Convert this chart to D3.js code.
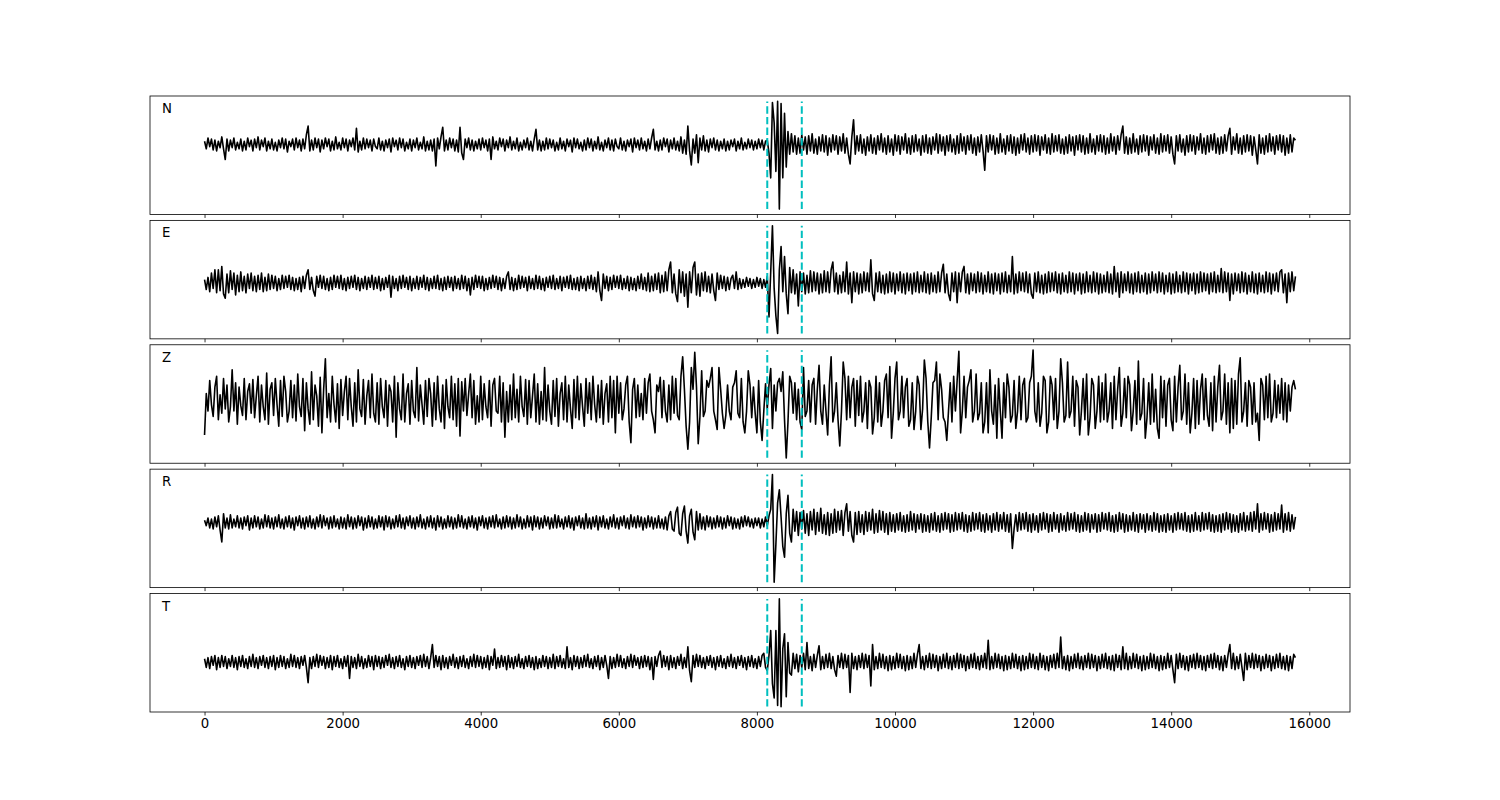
<!DOCTYPE html>
<html><head><meta charset="utf-8">
<script src="https://cdn.jsdelivr.net/npm/d3@7"></script>
<style>body{margin:0;background:#fff}</style></head>
<body><svg id="c" width="1500" height="800"></svg>
<script>
const channels = ["N","E","Z","R","T"];
const sampleStep = 25;
const picks = [8150, 8650];
const xTicks = [0,2000,4000,6000,8000,10000,12000,14000,16000];

const traceN = [
3,-4,6,-2,5,-5,4,-6,3,-3,7,-4,-14,5,-6,4,-3,6,-5,2,
-4,5,-6,3,-5,6,-2,4,-6,5,-3,7,-5,4,-2,6,-6,3,-4,5,
-5,2,-6,4,-3,6,-4,5,-7,3,-2,5,-5,6,-3,4,-6,5,-4,9,
17,-6,4,-5,6,-3,5,-7,4,-4,6,-2,5,-6,3,-5,7,-4,2,-5,
6,-3,5,-6,4,-2,6,-5,15,-7,3,-5,6,-4,5,-3,4,-6,5,-2,
-4,6,-5,3,-6,4,-3,5,-7,6,-2,4,-5,6,-3,5,-6,2,-4,5,
-6,4,-3,6,-5,2,-4,7,-6,3,-5,4,-6,5,-20,6,-4,7,16,-6,
4,-5,6,-3,5,-6,4,-7,16,-8,-14,5,-3,6,-5,4,-6,3,-4,5,
-5,6,-3,4,-6,5,-14,7,-4,3,-5,6,-2,5,-6,4,-3,7,-5,3,
-4,6,-6,2,-5,4,-3,6,-5,3,-6,5,14,-5,4,-6,3,-5,6,-4,
5,-3,4,-6,2,-5,6,-4,3,-6,5,-2,4,-7,6,-3,5,-4,2,-6,
4,-5,6,-3,5,-6,3,-4,7,-5,2,-6,4,-3,6,-5,4,-6,5,-2,
-4,6,-5,3,-6,4,-2,5,-7,6,-3,4,-5,6,-4,3,-6,5,-4,6,
14,-5,3,-6,4,-5,6,-2,5,-7,4,-4,6,-5,3,-6,7,-8,4,-9,
17,-6,-19,5,-8,9,-17,6,-5,8,-6,4,-7,5,-3,6,-5,4,-6,3,
-4,5,-6,3,-5,4,-2,5,-6,3,-4,6,-5,2,-4,5,-3,4,-5,3,
-4,5,-3,4,-5,3,4,-8,-31,39,20,-25,40,-60,38,-31,29,-21,12,-9,
10,-7,8,-9,6,-8,9,-5,7,-9,8,-6,10,-8,5,-9,7,-6,9,-7,
8,-10,6,-7,9,-5,8,-9,7,-6,10,-8,6,-9,-18,7,23,-9,8,-6,
9,-8,5,-10,7,-6,9,-8,6,-9,8,-5,10,-7,6,-9,8,-7,5,-10,
9,-6,8,-9,7,-5,10,-8,6,-9,8,-7,9,-6,5,-10,8,-7,9,-8,
6,-9,7,-5,10,-8,9,-6,7,-10,8,-6,9,-7,5,-9,8,-8,10,-6,
7,-9,8,-5,9,-8,6,-10,7,-7,9,-6,-24,8,-7,9,-5,8,-9,6,
-8,10,-7,5,-9,8,-6,9,-8,7,-10,6,-8,9,-5,10,-7,6,-9,8,
-7,9,-6,8,-10,7,-5,9,-8,6,-9,10,-7,8,-6,9,-8,5,-9,7,
-8,9,-6,7,-10,8,-5,9,-7,8,-9,6,-8,10,-7,5,-9,8,-6,9,
-7,8,-9,6,-8,10,-6,7,-9,8,-5,9,17,-8,7,-9,6,-8,10,-7,
5,-9,8,-7,9,-6,8,-10,7,-5,9,-8,6,-9,10,-7,8,-6,9,-8,
7,-9,-18,8,-6,9,-7,5,-10,8,-7,9,-6,8,-9,7,-5,10,-8,6,
-9,8,-7,9,-5,10,-8,6,-9,7,-8,9,-6,8,15,-9,7,-5,10,-8,
6,-9,8,-7,9,-6,8,-10,7,-5,-18,9,-8,6,-9,8,-7,10,-6,7,
-9,8,-5,9,-7,8,-10,6,-8,9,-7,6,4];

const traceE = [
3,-6,5,-8,9,-5,12,-9,12,-7,15,-10,-14,8,-9,11,-6,9,-11,7,
-8,10,-7,6,-9,8,-5,9,-7,6,-8,7,-6,9,-8,5,-7,8,-6,7,
-5,6,-7,4,-6,7,-5,6,-4,7,-6,5,-7,4,-6,5,-8,6,-5,7,
12,-6,5,-7,-12,6,-4,7,-5,6,-6,4,-7,5,-6,7,-4,6,-5,7,
-6,4,-7,5,-5,6,-4,7,-6,5,-7,4,-5,6,-6,5,-4,7,-6,5,
-5,6,-7,4,-6,5,-4,7,-13,6,-5,4,-7,6,-5,7,-4,5,-6,6,
-7,4,-5,6,-6,5,-4,7,-6,5,-7,4,-5,6,-5,7,-6,4,-7,5,
-6,6,-4,5,-7,6,-5,4,-6,7,-5,6,-7,4,-11,5,-6,7,-4,6,
-5,6,-7,4,-6,5,-5,7,-4,6,-6,5,-7,4,-5,6,10,-6,5,-7,
4,-6,7,-5,6,-4,5,-7,6,-5,4,-6,7,-5,6,-6,4,-7,5,-4,
6,-5,7,-6,4,-5,6,-7,5,-4,6,-5,7,-6,4,-6,5,-7,6,-5,
4,-7,6,-5,7,-6,5,-8,10,-7,-16,8,-5,6,-7,5,-6,7,-4,6,
-5,7,-6,4,-5,6,-7,5,-6,4,-7,6,-5,8,-6,5,-7,9,-8,6,
-7,8,-6,9,-9,7,-8,10,-7,12,19,-9,8,-10,-17,12,-9,10,-12,8,
-22,10,-9,14,19,-11,8,-12,9,-7,10,-8,6,-9,8,-7,-16,9,-6,7,
-5,6,-7,5,-6,4,7,-5,10,-6,4,-5,3,-4,5,-3,4,-5,3,-4,
5,-3,4,-5,3,-4,6,-31,10,52,-5,-30,-46,12,33,-8,24,-10,-28,14,
-9,12,-10,8,-21,10,-8,9,-10,7,-9,11,-8,10,-7,9,-10,8,-9,11,
-8,10,-9,12,19,-8,9,-10,7,-9,10,-8,19,-10,9,-18,10,-8,9,-10,
8,-9,10,-7,9,-8,21,-10,-16,9,-8,10,-9,7,-10,8,-9,10,-8,9,
-10,8,-7,10,-9,8,-10,9,-7,8,-10,9,-8,10,-9,7,-8,10,-9,8,
-10,9,-8,7,-9,10,-8,9,17,-9,8,-10,-16,9,-8,10,-18,9,-8,10,
15,-9,8,-10,9,-7,8,-9,10,-8,9,-10,7,-8,10,-9,8,-10,9,-7,
8,-10,9,-8,10,-9,7,-8,24,-10,8,-9,10,-7,9,-8,10,-9,8,-10,
-14,9,-8,10,-9,7,-10,8,-9,10,-8,9,-7,10,-9,8,-10,9,-8,7,
-9,10,-8,9,-10,8,-7,9,-10,8,-9,10,-8,7,-9,10,-8,9,-10,8,
-9,7,-8,10,-9,8,-10,15,-8,9,-13,10,-9,8,-7,10,-9,8,-10,9,
-8,10,-9,7,-8,9,-10,8,-9,10,-7,8,-9,10,-8,9,-10,7,-8,9,
-10,8,-9,10,-8,7,-9,10,-8,9,-10,8,-7,9,-10,8,-9,10,-8,9,
-7,8,-10,9,-8,10,-9,7,-8,13,-9,10,-8,9,-16,8,-10,9,-7,8,
-9,10,-8,9,-10,7,-8,10,-9,8,-10,9,-8,7,-9,10,-8,9,-10,8,
-7,9,-8,10,12,-9,8,-18,9,-8,10,-7,6];

const traceZ = [
-32,6,-10,18,-4,-15,12,22,-18,5,-12,20,-8,14,-20,-6,28,-10,16,-22,
12,-5,-14,20,-18,8,15,-12,19,-16,4,22,-20,14,-6,-18,25,-22,10,16,
-14,20,-4,-24,18,-15,22,8,-20,-10,18,-16,14,-19,24,-6,-15,20,-28,16,
-8,-22,26,-18,14,4,-24,21,-30,10,38,-16,6,-20,22,-4,-20,15,-26,19,
-14,8,22,-18,20,-6,-24,16,-20,28,-8,-15,19,-22,4,18,-16,24,-12,-20,
16,-22,20,-6,-16,18,-24,14,8,-20,22,-34,16,-8,-18,24,-20,6,15,-22,
18,-10,-16,30,-19,14,-4,-22,18,-15,20,6,-24,16,-18,22,-8,-20,14,-26,
19,-6,-16,22,-18,15,-24,20,-33,17,-10,20,-14,6,24,-16,18,-22,4,-20,
22,-18,15,-6,-16,18,-24,14,20,-10,-12,22,-20,16,-34,8,-20,14,-18,24,
-16,10,-20,22,-6,-15,19,-22,18,-16,4,24,-20,15,-22,8,-18,30,-19,14,
-10,-22,18,-15,20,-24,6,16,-18,22,-20,14,-8,-26,19,-16,22,-18,15,-6,
-24,20,-12,16,-18,22,-4,-20,14,-16,18,-22,6,15,-20,22,-16,18,-30,22,
-12,16,-18,-8,14,22,-20,-39,10,20,-16,14,-15,6,-18,20,-12,16,24,-10,
-18,-30,14,8,21,-16,18,-10,-20,14,-18,22,-12,20,-14,-18,22,40,10,-24,
-45,-20,30,10,44,12,-40,-15,27,-15,-10,18,12,20,30,-10,-18,-27,30,10,
-12,-26,-14,14,-10,-18,12,16,27,-12,-16,20,-20,-30,-10,27,14,-16,12,-12,
-30,18,-20,-37,-10,15,-8,14,29,-26,14,-10,16,20,8,26,-18,-53,-20,22,
16,-12,16,-18,10,-20,-27,30,-15,-10,18,-20,14,20,-22,10,32,-10,-22,14,
-10,-32,14,40,-20,-10,16,-18,-42,-10,35,20,-18,22,-16,12,20,-24,18,-14,
22,-20,-10,16,-26,18,12,-31,-16,22,-20,16,-24,-10,18,24,-16,31,-35,-12,
20,35,-18,-10,22,-16,12,20,-24,-18,16,-27,-10,22,14,-27,-8,37,20,-20,
-44,-16,16,18,35,-18,24,10,-16,-20,-37,-10,16,-20,22,-10,18,45,-30,-10,
22,-16,12,18,28,-20,-10,24,-18,-12,16,-30,-20,16,-30,28,-10,-22,14,-35,
20,-10,-35,16,-16,24,12,-20,-14,18,-26,-10,22,-18,14,20,-20,-16,16,22,
46,-10,-20,16,-24,-12,22,18,-30,-20,22,14,-18,20,-26,-10,38,16,-20,-14,
35,-16,-10,22,-24,18,12,-32,-10,20,-18,24,-32,-16,20,14,-26,-10,22,-20,
16,-18,24,-20,-10,16,-26,22,-18,10,30,-24,-12,20,-16,22,14,-28,-10,18,
-22,36,-18,-12,20,-35,-16,16,-22,24,-20,10,-26,-35,22,-16,18,-24,14,20,
-18,-28,22,-20,12,32,-18,-10,24,-22,16,-30,-12,20,-26,18,-22,10,24,-18,
20,-14,-24,16,-28,22,-20,12,32,-18,-10,24,-22,16,-30,20,-26,18,-22,24,
39,-20,-10,16,-24,18,12,-22,16,-20,-12,-37,20,14,-18,22,-16,24,-20,-12,
18,-16,14,-12,20,-18,16,-20,14,-10,12,18,10];

const traceR = [
2,-3,4,-5,3,-6,5,-4,6,-7,-18,8,-5,4,-6,7,-5,3,-4,6,
-5,4,-6,5,-3,6,-7,4,-5,6,-4,5,-6,3,-5,7,-4,6,-5,4,
-6,5,-4,7,-5,3,-6,5,-4,6,-5,4,-7,5,-3,6,-5,4,-6,5,
-4,6,-5,3,-6,5,-4,7,-5,6,-3,4,-6,5,-5,6,-4,3,-6,5,
-5,4,-6,7,-4,5,-6,4,-5,6,-3,5,-7,4,-5,6,-4,5,-6,3,
-5,6,-4,5,-7,6,-4,5,-6,3,-5,6,-4,7,-5,4,-6,5,-3,6,
-5,4,-6,5,-4,7,-5,3,-6,5,-4,6,-5,4,-7,6,-4,5,-6,3,
-5,6,-4,5,-6,4,-5,7,-4,6,-5,3,-6,5,-4,6,-5,4,-7,5,
-3,6,-5,4,-6,5,-4,6,-5,7,-4,3,-6,5,-5,6,-4,5,-6,4,
-5,7,-4,5,-6,3,-5,6,-4,5,-7,6,-4,5,-6,4,-5,6,-3,5,
-6,4,-5,7,-5,6,-4,3,-6,5,-4,6,-5,4,-7,5,-3,6,-5,4,
-6,8,-5,4,-6,5,-4,6,-7,5,-4,6,-5,3,-6,5,-4,7,-5,4,
-6,5,-3,6,-5,4,-6,7,-4,5,-5,6,-4,5,-7,4,-5,6,-4,5,
-6,4,-5,6,-5,3,-6,5,-7,6,10,-6,-8,9,14,-10,-12,8,15,-8,
-19,6,12,-9,-16,10,-7,8,-6,5,-7,6,-4,5,-6,4,-5,6,-4,5,
-6,4,-5,6,-3,5,-6,4,-5,3,-6,5,-4,6,-3,5,-4,3,-5,4,
-3,4,-5,3,-4,5,-3,6,12,44,-55,-20,18,30,5,-22,-32,8,25,-10,
-18,12,-8,10,-12,9,-6,11,-10,8,-12,10,-7,12,-11,9,-8,13,-10,7,
-11,9,-12,8,-10,12,-9,10,-7,11,-12,9,17,-8,10,-12,-18,9,-11,10,
-9,7,-11,10,-8,9,-7,12,-10,8,-9,11,-7,10,-9,8,-11,9,-8,7,
-9,8,-7,9,-8,6,-9,7,-8,10,-7,8,-9,7,-6,8,-9,7,-8,6,
-9,8,-7,9,-8,6,-9,8,-7,9,-6,8,-9,7,-8,9,-7,8,-6,9,
-8,7,-9,6,-8,9,-7,8,-6,9,-8,7,-9,8,-7,6,-9,8,-7,9,
-8,7,-6,9,-8,7,-9,8,-24,-6,7,-8,9,-7,8,-6,9,-8,7,-9,
8,-7,6,-9,8,-7,9,-6,8,-9,7,-8,9,-6,7,-9,8,-7,6,-8,
9,-7,8,-6,9,-8,7,-9,6,-8,9,-7,8,-9,7,-6,8,-9,7,-8,
9,-6,8,-7,9,-8,6,-9,7,-8,9,-6,8,-9,7,-8,6,-7,9,-8,
7,-9,8,-6,7,-9,8,-7,6,-8,9,-7,8,-9,6,-8,7,-9,8,-7,
6,-9,8,-7,9,-6,8,-7,9,-8,6,-9,7,-8,9,-7,6,-8,9,-7,
8,-6,9,-8,7,-9,6,-8,7,-9,8,-7,9,-6,8,-9,7,-8,6,-9,
8,-7,9,-8,6,-7,9,-8,10,-6,17,-9,8,-7,9,-6,8,-9,7,-8,
9,-7,8,-6,16,-9,8,-7,9,-8,7,-6,5];

const traceT = [
3,-5,4,-6,5,-3,6,-7,4,-5,6,-4,5,-6,3,-4,6,-5,4,-7,
5,-4,6,-5,3,-6,5,-4,7,-5,4,-6,5,-3,6,-5,4,-6,5,-4,
6,-7,4,-5,6,-4,5,-6,3,-5,7,-4,6,-5,4,-6,5,-3,6,-5,
-19,4,-6,5,-4,7,-5,6,-3,5,-6,4,-5,6,-7,5,-4,6,-5,3,
-6,5,-4,6,-15,5,-5,4,-6,7,-4,5,-6,3,-5,6,-4,5,-7,6,
-4,5,-6,4,-5,6,-3,7,-5,4,-6,5,-4,6,-5,3,-7,5,-4,6,
-5,4,-6,5,-3,6,-5,7,-4,5,-6,4,16,-5,6,-4,5,-7,6,-5,
4,-6,5,-3,7,-5,4,-6,5,-4,6,-5,3,-6,5,-4,7,-5,6,-4,
5,-6,4,-5,6,-7,5,-3,12,-6,4,-5,6,-4,5,-7,6,-5,4,-6,
5,-4,7,-5,3,-6,5,-4,6,-5,4,-7,5,-6,3,-5,6,-4,5,-6,
4,-5,7,-6,5,-4,6,-5,3,-6,14,-5,4,-7,6,-4,5,-6,4,-5,
6,-4,7,-5,3,-6,5,-4,6,-7,4,-5,6,-3,-15,5,-6,4,-5,7,
-4,6,-5,3,-6,5,-4,7,-5,6,-3,4,-6,5,-5,6,-4,5,-7,4,
-16,5,-4,6,10,-5,6,-4,5,-7,6,-5,4,-6,5,-3,7,-6,4,-5,
14,-8,-18,6,-5,7,-4,6,-5,4,-6,5,-3,6,-5,4,-7,5,-4,6,
-5,3,-6,5,-4,7,-5,4,-6,5,-3,6,-5,4,-7,5,-4,6,-5,3,
-6,5,-4,6,8,-5,-8,6,29,-20,-33,29,-40,58,-41,12,26,-32,18,-10,
-12,8,-6,7,-9,6,-5,8,-7,18,-6,5,-8,7,-5,6,15,-7,5,-6,
7,-5,8,-6,5,-7,-13,6,-5,8,-6,7,-5,6,-28,8,-6,5,-7,6,
-5,8,-6,7,-5,6,-22,16,-7,5,-6,8,-5,7,-6,5,-8,6,-7,5,
-6,8,-5,7,-6,5,-8,6,-7,5,-6,8,-5,7,16,-6,5,-7,6,-5,
8,-6,7,-5,6,-8,5,-6,7,-5,8,-6,5,-7,6,-5,8,-6,7,-5,
6,-8,5,-6,7,-5,8,-6,5,-7,6,-5,8,-6,20,-7,5,-6,8,-5,
7,-6,5,-8,6,-7,5,-6,8,-5,7,-6,5,-8,6,-7,5,-6,8,-5,
7,-6,5,-7,8,-5,6,-7,5,-8,6,-5,7,-6,8,-5,23,-6,5,-7,
6,-8,5,-6,7,-5,8,-6,5,-7,6,-5,8,-6,7,-5,6,-8,5,-6,
7,-5,8,-6,5,-7,6,-8,7,-5,6,-7,14,-6,8,-7,5,-6,8,-5,
7,-6,5,-8,6,-7,5,-6,8,-5,7,-6,5,-8,6,-7,5,-6,8,-5,
6,-7,-19,7,-6,8,-5,6,-7,5,-8,6,-5,7,-6,8,-5,6,-7,5,
-8,6,-5,7,-6,8,-5,6,-7,5,-8,6,-5,7,16,-6,8,-7,5,-6,
7,-5,-17,8,-7,6,-5,8,-6,7,-5,6,-8,5,-6,7,-5,6,-8,5,
-6,7,-5,8,-6,5,-7,6,-8,5,-6,7,4];

const traces = [traceN, traceE, traceZ, traceR, traceT];

const svg = d3.select("#c");
const mLeft = 150, mRight = 1350, mTop = 96, mBottom = 712, hspace = 0.05;
const ph = (mBottom - mTop) / (channels.length + (channels.length - 1) * hspace);
const gap = ph * hspace;
const maxT = d3.max(traces, t => (t.length - 1) * sampleStep);
const x = d3.scaleLinear().domain([-0.05 * maxT, 1.05 * maxT]).range([mLeft, mRight]);

channels.forEach((ch, k) => {
  const data = traces[k].map((v, i) => ({t: i * sampleStep, v}));
  const y0 = mTop + k * (ph + gap);
  const [mn, mx] = d3.extent(data, d => d.v);
  const pad = (mx - mn) * 0.05;
  const y = d3.scaleLinear().domain([mn - pad, mx + pad]).range([y0 + ph, y0]);
  const g = svg.append("g");

  g.append("path")
    .datum(data)
    .attr("fill", "none")
    .attr("stroke", "#000")
    .attr("stroke-width", 1.6)
    .attr("stroke-linejoin", "round")
    .attr("d", d3.line().x(d => x(d.t)).y(d => y(d.v)));

  g.selectAll("line.pick").data(picks).join("line")
    .attr("class", "pick")
    .attr("x1", d => x(d)).attr("x2", d => x(d))
    .attr("y1", y(mn)).attr("y2", y(mx))
    .attr("stroke", "#00bfbf")
    .attr("stroke-width", 2)
    .attr("stroke-dasharray", "7.4,3.2");

  g.append("rect")
    .attr("x", mLeft).attr("y", y0)
    .attr("width", mRight - mLeft).attr("height", ph)
    .attr("fill", "none").attr("stroke", "#000").attr("stroke-width", 0.8);

  const axis = d3.axisBottom(x).tickValues(xTicks).tickSize(3.5).tickPadding(3.5)
    .tickFormat(k === channels.length - 1 ? d3.format("d") : "");
  const ag = g.append("g").attr("transform", `translate(0,${y0 + ph})`).call(axis);
  ag.select(".domain").remove();
  ag.selectAll(".tick line").attr("stroke", "#000").attr("stroke-width", 0.8);
  ag.selectAll(".tick text").attr("fill", "#000")
    .style("font-family", "DejaVu Sans").style("font-size", "13.3px");

  g.append("text")
    .attr("x", mLeft + 12).attr("y", y0 + 17)
    .style("font-family", "DejaVu Sans").style("font-size", "13.3px")
    .attr("fill", "#000")
    .text(ch);
});
</script>
</body></html>
